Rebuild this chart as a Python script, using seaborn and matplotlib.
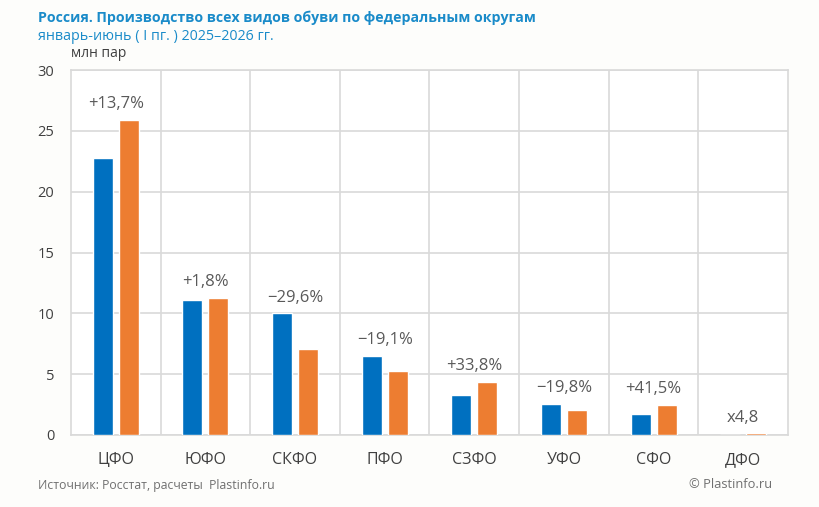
import numpy as np
import pandas as pd
import matplotlib
matplotlib.use("Agg")
import matplotlib.pyplot as plt
import seaborn as sns

# ==========================
# Data
# ==========================

districts = ["ЦФО", "ЮФО", "СКФО", "ПФО", "СЗФО", "УФО", "СФО", "ДФО"]
values_2025 = [22.8, 11.1, 10.0, 6.5, 3.25, 2.55, 1.75, 0.03]
values_2026 = [25.9, 11.3, 7.04, 5.26, 4.35, 2.05, 2.48, 0.145]
changes = ["+13,7%", "+1,8%", "\u221229,6%", "\u221219,1%", "+33,8%",
           "\u221219,8%", "+41,5%", "x4,8"]
years = ["2025", "2026"]

df = pd.DataFrame({
    "district": districts * 2,
    "year": [years[0]] * len(districts) + [years[1]] * len(districts),
    "value": values_2025 + values_2026,
})

# ==========================
# Style
# ==========================

sns.set_style("white")
plt.rcParams["font.family"] = ["Open Sans", "DejaVu Sans"]

blue = "#0070c0"
orange = "#ed7d31"
grid_col = "#d9d9d9"
text_col = "#595959"
title_col = "#1a8bc9"

fig = plt.figure(figsize=(8.2, 5.07), dpi=100, facecolor="#fdfdfb")
ax = fig.add_axes([71 / 820, 1 - 435 / 507, (788 - 71) / 820, (435 - 70) / 507])
ax.set_facecolor("white")

sns.barplot(
    data=df, x="district", y="value", hue="year",
    palette=[blue, orange], width=0.58, gap=0.23,
    legend=False, ax=ax, saturation=1,
)

ax.set_ylim(0, 30)
ax.set_xlim(-0.5, len(districts) - 0.5)
ax.set_yticks(range(0, 31, 5))
ax.yaxis.grid(True, color=grid_col, lw=1.2)
for xb in np.arange(0.5, len(districts) - 0.5, 1):
    ax.axvline(xb, color=grid_col, lw=1.2, zorder=0)
ax.set_axisbelow(True)
for s in ax.spines.values():
    s.set_color(grid_col)
    s.set_linewidth(1.2)
    s.set_zorder(0.6)

ax.set_xlabel("")
ax.set_ylabel("")
ax.tick_params(axis="both", length=0, colors="#404040")
ax.tick_params(axis="x", pad=12, labelsize=11.5)
ax.tick_params(axis="y", pad=12, labelsize=10.5)

# change labels above each pair
for i, lab in enumerate(changes):
    top = max(values_2025[i], values_2026[i])
    ax.annotate(lab, (i, top), xytext=(0, 5.5), textcoords="offset points",
                ha="center", va="bottom", fontsize=12, color=text_col)

ax.text(0, 1.025, "млн пар", transform=ax.transAxes, fontsize=10,
        color="#404040", ha="left", va="bottom")

fig.text(38 / 820, 1 - 18 / 507, "Россия. Производство всех видов обуви по федеральным округам",
         fontsize=10.2, fontweight="bold", color=title_col, va="center")
fig.text(38 / 820, 1 - 36 / 507, "январь-июнь ( I пг. ) 2025\u20132026 гг.",
         fontsize=10.3, color=title_col, va="center")
fig.text(38 / 820, 1 - 485 / 507, "Источник: Росстат, расчеты  Plastinfo.ru",
         fontsize=8.8, color="#707070", va="center")
fig.text(772 / 820, 1 - 485 / 507, "\u00a9 Plastinfo.ru",
         fontsize=9.3, color="#707070", va="center", ha="right")

plt.savefig("out.png", dpi=100, facecolor=fig.get_facecolor())
